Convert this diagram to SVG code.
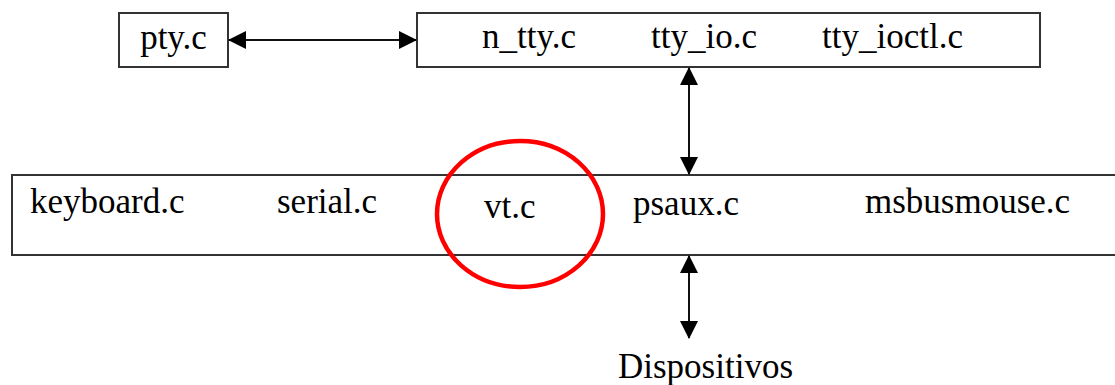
<svg xmlns="http://www.w3.org/2000/svg" width="1115" height="385" viewBox="0 0 1115 385">
<style>
.box{fill:#fff;stroke:#333;stroke-width:2}
.t{font-family:"Liberation Serif","Times New Roman",serif;font-size:35px;fill:#000}
.c{stroke:#111;stroke-width:2;fill:none}
</style>
<defs>
<marker id="ah" viewBox="0 0 18 18" refX="17" refY="9" markerWidth="18" markerHeight="18" markerUnits="userSpaceOnUse" orient="auto-start-reverse">
<path d="M0,0 L18,9 L0,18 Z" fill="#000"/>
</marker>
</defs>
<rect width="1115" height="385" fill="#fff"/>
<g id="pty">
<rect class="box" x="119" y="13" width="109" height="54"/>
<text class="t" x="173.5" y="49" text-anchor="middle">pty.c</text>
</g>
<g id="tty">
<rect class="box" x="417" y="13" width="623" height="54"/>
<text class="t" x="482" y="48">n_tty.c</text>
<text class="t" x="651" y="48">tty_io.c</text>
<text class="t" x="822" y="48">tty_ioctl.c</text>
</g>
<g id="drivers">
<rect class="box" x="12" y="175" width="1110" height="80"/>
<text class="t" x="30" y="213">keyboard.c</text>
<text class="t" x="277" y="213">serial.c</text>
<text class="t" x="484" y="218">vt.c</text>
<text class="t" x="633" y="215">psaux.c</text>
<text class="t" x="865" y="213">msbusmouse.c</text>
</g>
<g id="highlight">
<ellipse cx="520" cy="214" rx="83" ry="73" fill="none" stroke="#f00" stroke-width="4.5"/>
</g>
<g id="devices">
<text class="t" x="618" y="378">Dispositivos</text>
</g>
<g id="connectors">
<line class="c" x1="229" y1="40" x2="416" y2="40" marker-start="url(#ah)" marker-end="url(#ah)"/>
<line class="c" x1="689" y1="68" x2="689" y2="174" marker-start="url(#ah)" marker-end="url(#ah)"/>
<line class="c" x1="689" y1="256" x2="689" y2="338" marker-start="url(#ah)" marker-end="url(#ah)"/>
</g>
</svg>
